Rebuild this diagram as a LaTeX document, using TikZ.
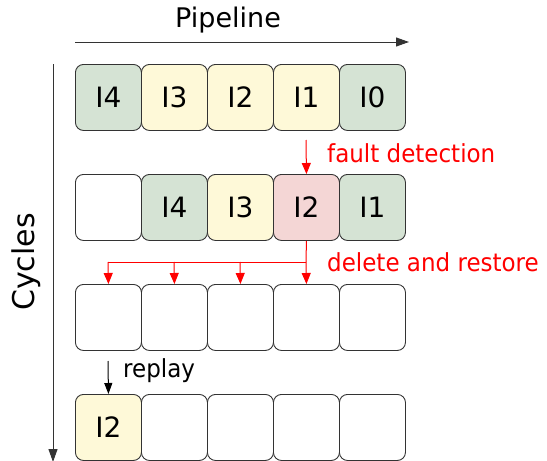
\documentclass[tikz,border=0pt]{standalone}
\usepackage{fontspec}
\setmainfont{DejaVu Sans}
\usetikzlibrary{arrows.meta}
\definecolor{gfill}{HTML}{D5E3D4}
\definecolor{yfill}{HTML}{FEF9D8}
\definecolor{rfill}{HTML}{F4D6D5}
\definecolor{bord}{HTML}{333333}
\definecolor{fred}{HTML}{FF0000}
\tikzset{
  cell/.style={draw=bord, line width=0.9pt, rounded corners=8pt, minimum width=66pt, minimum height=66pt, inner sep=0pt, font=\fontsize{28}{28}\selectfont, anchor=north west},
  axis/.style={draw=bord, line width=1pt, -{Triangle[length=13pt,width=9pt]}},
  redarr/.style={draw=fred, line width=1pt, -{Triangle[length=11pt,width=9pt]}},
  redline/.style={draw=fred, line width=1pt},
  blackarr/.style={draw=black, line width=1pt, -{Triangle[length=11pt,width=8pt]}},
  note/.style={font=\fontsize{23}{23}\selectfont, anchor=west, inner sep=0pt, yscale=1.08},
}
\begin{document}
\begin{tikzpicture}[x=1pt,y=-1pt]
\useasboundingbox (0,0) rectangle (547,461);
% axes
\coordinate (px0) at (75,42);
\coordinate (px1) at (409,42);
\draw[axis] (px0) -- (px1);
\node[font=\fontsize{27}{27}\selectfont] (pipe) at (228,20) {Pipeline};
\coordinate (cy0) at (53,64);
\coordinate (cy1) at (53,462);
\draw[axis] (cy0) -- (cy1);
\node[font=\fontsize{30}{30}\selectfont, rotate=90] (cycles) at (26,262) {Cycles};
% row 1
\node[cell, fill=gfill] (a1) at (75,64) {I4};
\node[cell, fill=yfill] (a2) at (141,64) {I3};
\node[cell, fill=yfill] (a3) at (207,64) {I2};
\node[cell, fill=yfill] (a4) at (273,64) {I1};
\node[cell, fill=gfill] (a5) at (339,64) {I0};
% row 2
\node[cell, fill=white] (b1) at (75,174) {};
\node[cell, fill=gfill] (b2) at (141,174) {I4};
\node[cell, fill=yfill] (b3) at (207,174) {I3};
\node[cell, fill=rfill] (b4) at (273,174) {I2};
\node[cell, fill=gfill] (b5) at (339,174) {I1};
% row 3
\node[cell, fill=white] (c1) at (75,284) {};
\node[cell, fill=white] (c2) at (141,284) {};
\node[cell, fill=white] (c3) at (207,284) {};
\node[cell, fill=white] (c4) at (273,284) {};
\node[cell, fill=white] (c5) at (339,284) {};
% row 4
\node[cell, fill=yfill] (d1) at (75,394) {I2};
\node[cell, fill=white] (d2) at (141,394) {};
\node[cell, fill=white] (d3) at (207,394) {};
\node[cell, fill=white] (d4) at (273,394) {};
\node[cell, fill=white] (d5) at (339,394) {};
% fault detection
\coordinate (fd0) at (306,140);
\draw[redarr] (fd0) -- (b4.north);
\node[note, text=fred] (fdt) at (327,153) {fault detection};
% delete and restore
\coordinate (dr) at (306,262);
\draw[redline] (b4.south) -- (dr);
\coordinate (dl) at (108,262);
\draw[redline] (dl) -- (dr);
\coordinate (d2s) at (174,262);
\coordinate (d3s) at (240,262);
\draw[redarr] (dl) -- (c1.north);
\draw[redarr] (d2s) -- (c2.north);
\draw[redarr] (d3s) -- (c3.north);
\draw[redarr] (dr) -- (c4.north);
\node[note, text=fred] (drt) at (327,262) {delete and restore};
% replay
\coordinate (rp0) at (108,361);
\draw[blackarr] (rp0) -- (d1.north);
\node[note] (rpt) at (123,371) {replay};
\end{tikzpicture}
\end{document}
